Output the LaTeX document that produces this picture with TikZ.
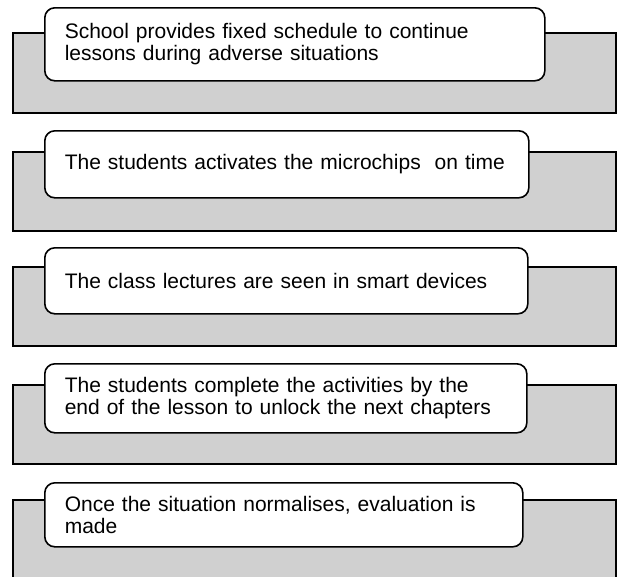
\documentclass[tikz,border=0pt]{standalone}
\usepackage{fontspec}
\setmainfont{Liberation Sans}
\definecolor{boxgray}{RGB}{208,208,208}
\begin{document}
\begin{tikzpicture}[x=1pt,y=-1pt,
  back box/.style={draw,fill=boxgray,line width=1.6pt},
  step node/.style={draw,fill=white,rounded corners=10pt,line width=1.6pt,
    anchor=north west,align=left,inner xsep=20pt,inner ysep=0pt,
    font=\fontsize{21}{22}\selectfont}]

  \useasboundingbox (0,0) rectangle (617,576);
  \clip (0,0) rectangle (617,576);

  % grey panels behind the steps
  \draw[back box] (13,33) rectangle (616,113);
  \draw[back box] (13,152) rectangle (616,231);
  \draw[back box] (13,267) rectangle (616,346);
  \draw[back box] (13,385) rectangle (616,464);
  \draw[back box] (13,500) rectangle (616,582);

  \node[step node,text width=460pt,minimum height=73pt] (1) at (44,7)
    {School provides fixed schedule to continue\\lessons during adverse situations};
  \node[step node,text width=444pt,minimum height=67pt] (2) at (44,130)
    {The students activates the microchips\ \ on time};
  \node[step node,text width=443pt,minimum height=66pt] (3) at (44,247)
    {The class lectures are seen in smart devices};
  \node[step node,text width=442pt,minimum height=69pt] (4) at (44,363)
    {The students complete the activities by the\\end of the lesson to unlock the next chapters};
  \node[step node,text width=438pt,minimum height=64pt] (5) at (44,482)
    {Once the situation normalises, evaluation is\\made};
\end{tikzpicture}
\end{document}
